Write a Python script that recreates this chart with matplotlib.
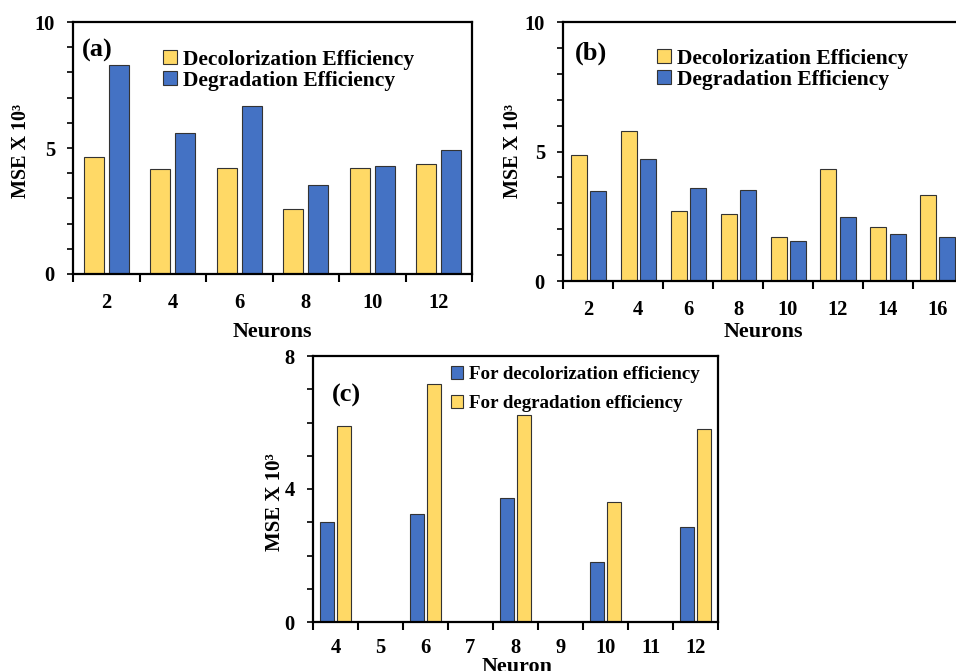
import matplotlib
matplotlib.use("Agg")
import matplotlib.pyplot as plt
import numpy as np

plt.rcParams['font.family'] = ['Liberation Serif', 'DejaVu Serif']
plt.rcParams['font.weight'] = 'bold'

# ---- data ----
neurons_a = ["2", "4", "6", "8", "10", "12"]
decol_a = [4.66, 4.17, 4.20, 2.59, 4.20, 4.37]
degr_a = [8.31, 5.58, 6.66, 3.55, 4.30, 4.91]

neurons_b = ["2", "4", "6", "8", "10", "12", "14", "16"]
decol_b = [4.86, 5.81, 2.69, 2.58, 1.68, 4.34, 2.07, 3.32]
degr_b = [3.48, 4.72, 3.61, 3.53, 1.54, 2.47, 1.81, 1.68]

neurons_c = ["4", "5", "6", "7", "8", "9", "10", "11", "12"]
decol_c = [3.01, np.nan, 3.26, np.nan, 3.74, np.nan, 1.79, np.nan, 2.86]
degr_c = [5.89, np.nan, 7.17, np.nan, 6.24, np.nan, 3.61, np.nan, 5.79]

YELLOW = '#FFD966'
BLUE = '#4472C4'
EDGE = '#333333'

fig = plt.figure(figsize=(9.56, 6.71), dpi=100)


def style_axes(ax, ncat, ymax, ymajor, tick_fs=14.8, xpad=13.5):
    ax.set_xlim(-0.5, ncat - 0.5)
    ax.set_ylim(0, ymax)
    ax.set_yticks(np.arange(0, ymax + 0.01, ymajor))
    ax.set_yticks(np.arange(0, ymax + 0.01, 1), minor=True)
    ax.set_xticks(np.arange(ncat))
    ax.set_xticks(np.arange(ncat + 1) - 0.5, minor=True)
    ax.tick_params(axis='x', which='major', length=0, pad=xpad, labelsize=tick_fs)
    ax.tick_params(axis='x', which='minor', length=6, width=1.5, direction='out')
    ax.tick_params(axis='y', which='both', length=4, width=1.2, direction='out',
                   pad=9, labelsize=tick_fs)
    for s in ax.spines.values():
        s.set_linewidth(1.6)
        s.set_color('black')


# ---- panel (a) ----
axa = fig.add_axes([73/956, 1-274/671, 399/956, 252/671])
x = np.arange(len(neurons_a))
axa.bar(x - 0.19, decol_a, width=0.30, color=YELLOW, edgecolor=EDGE, lw=0.8,
        label='Decolorization Efficiency')
axa.bar(x + 0.19, degr_a, width=0.30, color=BLUE, edgecolor=EDGE, lw=0.8,
        label='Degradation Efficiency')
style_axes(axa, len(neurons_a), 10, 5)
axa.set_xticklabels(neurons_a)
axa.set_ylabel('MSE X 10³', fontsize=14.5, fontweight='bold')
axa.yaxis.set_label_coords(-0.106, 0.49)
axa.set_xlabel('Neurons', fontsize=15.8, fontweight='bold')
axa.xaxis.set_label_coords(0.5, -0.19)
axa.text(0.023, 0.889, '(a)', transform=axa.transAxes, fontsize=19,
         fontweight='bold', va='center', ha='left')
axa.legend(loc='upper left', bbox_to_anchor=(0.226, 0.89), frameon=False,
           fontsize=15.5, handlelength=0.62, handleheight=0.62,
           handletextpad=0.3, labelspacing=0.05, borderpad=0, borderaxespad=0)

# ---- panel (b) ----
axb = fig.add_axes([563/956, 1-281/671, 400/956, 259/671])
x = np.arange(len(neurons_b))
axb.bar(x - 0.19, decol_b, width=0.32, color=YELLOW, edgecolor=EDGE, lw=0.8,
        label='Decolorization Efficiency')
axb.bar(x + 0.19, degr_b, width=0.32, color=BLUE, edgecolor=EDGE, lw=0.8,
        label='Degradation Efficiency')
style_axes(axb, len(neurons_b), 10, 5)
axb.set_xticklabels(neurons_b)
axb.set_ylabel('MSE X 10³', fontsize=14.5, fontweight='bold')
axb.yaxis.set_label_coords(-0.1, 0.5)
axb.set_xlabel('Neurons', fontsize=15.8, fontweight='bold')
axb.xaxis.set_label_coords(0.5, -0.158)
axb.text(0.03, 0.88, '(b)', transform=axb.transAxes, fontsize=19,
         fontweight='bold', va='center', ha='left')
axb.legend(loc='upper left', bbox_to_anchor=(0.236, 0.896), frameon=False,
           fontsize=15.5, handlelength=0.62, handleheight=0.62,
           handletextpad=0.3, labelspacing=0.05, borderpad=0, borderaxespad=0)

# ---- panel (c) ----
axc = fig.add_axes([313/956, 1-622/671, 405/956, 266/671])
x = np.arange(len(neurons_c))
axc.bar(x - 0.19, decol_c, width=0.33, color=BLUE, edgecolor=EDGE, lw=0.8,
        label='For decolorization efficiency')
axc.bar(x + 0.19, degr_c, width=0.33, color=YELLOW, edgecolor=EDGE, lw=0.8,
        label='For degradation efficiency')
style_axes(axc, len(neurons_c), 8, 4, xpad=11.5)
axc.set_xticklabels(neurons_c)
axc.set_ylabel('MSE X 10³', fontsize=15, fontweight='bold')
axc.yaxis.set_label_coords(-0.069, 0.452)
axc.set_xlabel('Neuron', fontsize=15.8, fontweight='bold')
axc.xaxis.set_label_coords(0.504, -0.13)
axc.text(0.047, 0.853, '(c)', transform=axc.transAxes, fontsize=19,
         fontweight='bold', va='center', ha='left')
axc.legend(loc='upper left', bbox_to_anchor=(0.341, 0.962), frameon=False,
           fontsize=13.7, handlelength=0.65, handleheight=0.65,
           handletextpad=0.3, labelspacing=0.62, borderpad=0, borderaxespad=0)

fig.savefig('out.png', dpi=100)
